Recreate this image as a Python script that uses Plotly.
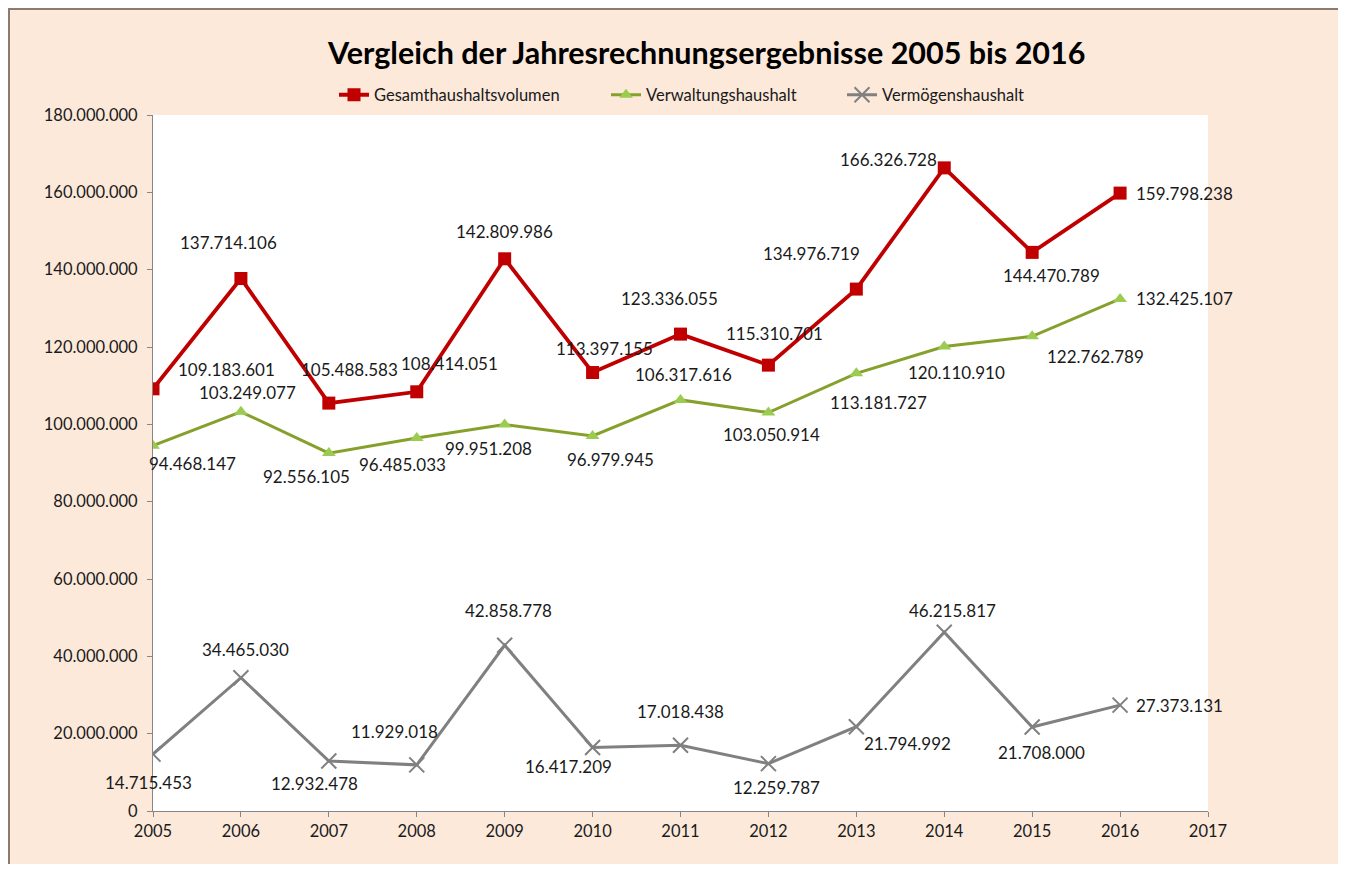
import plotly.graph_objects as go

# ---- data ----
years = [2005, 2006, 2007, 2008, 2009, 2010, 2011, 2012, 2013, 2014, 2015, 2016]
gesamt = [109183601, 137714106, 105488583, 108414051, 142809986, 113397155,
          123336055, 115310701, 134976719, 166326728, 144470789, 159798238]
verwaltung = [94468147, 103249077, 92556105, 96485033, 99951208, 96979945,
              106317616, 103050914, 113181727, 120110910, 122762789, 132425107]
vermoegen = [14715453, 34465030, 12932478, 11929018, 42858778, 16417209,
             17018438, 12259787, 21794992, 46215817, 21708000, 27373131]
series_names = ["Gesamthaushaltsvolumen", "Verwaltungshaushalt", "Vermögenshaushalt"]
y_tickvals = [0, 20000000, 40000000, 60000000, 80000000, 100000000,
              120000000, 140000000, 160000000, 180000000]
x_tickvals = [2005, 2006, 2007, 2008, 2009, 2010, 2011, 2012, 2013, 2014, 2015, 2016, 2017]
title_text = "Vergleich der Jahresrechnungsergebnisse 2005 bis 2016"

# ---- label offsets (pixels, dx right, dy down) ----
off_gesamt = [(73, -19), (-12, -36), (21, -34), (33, -28), (0, -27), (12, -24),
              (-11, -36), (6, -32), (-45, -36), (-56, -8), (19, 23), (64, 0)]
off_verw = [(39, 18), (7, -19), (-22, 23), (-14, 27), (-16, 24), (18, 23),
            (3, -25), (3, 22), (22, 29), (12, 26), (63, 20), (64, 0)]
off_verm = [(-5, 28), (5, -28), (-14, 23), (-22, -33), (4, -35), (-24, 19),
            (0, -34), (8, 24), (51, 17), (8, -22), (9, 25), (59, 0)]


def de(v):
    return f"{v:,}".replace(",", ".")


FONT = "Lato"
TXT = "#1a1a1a"
# page body has an 8px margin; figure placed from (8,8)
W, H = 1330, 856
L, R, T, B = 145, 130, 107, 53
pw = W - L - R
ph = H - T - B


def px_x(p):  # figure pixel -> paper x
    return (p - L) / pw


def px_y(p):  # figure pixel (from top) -> paper y
    return (H - B - p) / ph


fig = go.Figure()
fig.add_trace(go.Scatter(
    x=years, y=gesamt, name=series_names[0], mode="lines+markers",
    line=dict(color="#C00000", width=3.8),
    marker=dict(symbol="square", size=13, color="#C00000"),
    legend="legend",
))
fig.add_trace(go.Scatter(
    x=years, y=verwaltung, name=series_names[1], mode="lines+markers",
    line=dict(color="#86A02C", width=3),
    marker=dict(symbol="triangle-up", size=12, color="#9BCB4F"),
    legend="legend2",
))
fig.add_trace(go.Scatter(
    x=years, y=vermoegen, name=series_names[2], mode="lines+markers",
    line=dict(color="#808080", width=3),
    marker=dict(symbol="x-thin", size=15, color="#808080",
                line=dict(color="#808080", width=2)),
    legend="legend3",
))

annotations = []
for vals, offs in ((gesamt, off_gesamt), (verwaltung, off_verw), (vermoegen, off_verm)):
    for xv, yv, (dx, dy) in zip(years, vals, offs):
        annotations.append(dict(
            x=xv, y=yv, xref="x", yref="y", text=de(yv), showarrow=False,
            xshift=dx, yshift=-dy, font=dict(family=FONT, size=17, color=TXT),
        ))

annotations.append(dict(
    x=px_x(698), y=px_y(44), xref="paper", yref="paper", text=f"<b>{title_text}</b>",
    showarrow=False, xanchor="center", yanchor="middle",
    font=dict(family=FONT, size=30.5, color="#000000"),
))

leg_common = dict(orientation="h", xref="paper", yref="paper", xanchor="left",
                  yanchor="middle", font=dict(family=FONT, size=16.5, color=TXT),
                  bgcolor="rgba(0,0,0,0)")

fig.update_layout(
    width=W, height=H,
    margin=dict(l=L, r=R, t=T, b=B),
    paper_bgcolor="#FCE9DA",
    plot_bgcolor="#FFFFFF",
    font=dict(family=FONT, size=16, color=TXT),
    showlegend=True,
    legend=dict(x=px_x(326), y=px_y(87), **leg_common),
    legend2=dict(x=px_x(598), y=px_y(87), **leg_common),
    legend3=dict(x=px_x(834), y=px_y(87), **leg_common),
    annotations=annotations,
    shapes=[
        dict(type="line", xref="paper", yref="paper",
             x0=px_x(0), x1=px_x(W), y0=px_y(1), y1=px_y(1),
             line=dict(color="#8C7B6E", width=2)),
        dict(type="line", xref="paper", yref="paper",
             x0=px_x(1), x1=px_x(1), y0=px_y(0), y1=px_y(H),
             line=dict(color="#8C7B6E", width=2)),
    ],
)
fig.update_xaxes(
    range=[2005, 2017], tickvals=x_tickvals, ticktext=[str(v) for v in x_tickvals],
    showgrid=False, zeroline=False, showline=True, linecolor="#868686", linewidth=1,
    ticks="outside", ticklen=5, tickcolor="#868686",
    tickfont=dict(family=FONT, size=16.5, color=TXT),
)
fig.update_yaxes(
    range=[0, 180000000], tickvals=y_tickvals, ticktext=[de(v) for v in y_tickvals],
    showgrid=False, zeroline=False, showline=True, linecolor="#868686", linewidth=1,
    ticks="outside", ticklen=5, tickcolor="#868686", ticklabelstandoff=6,
    tickfont=dict(family=FONT, size=16.5, color=TXT),
)

fig.write_html("out.html")
